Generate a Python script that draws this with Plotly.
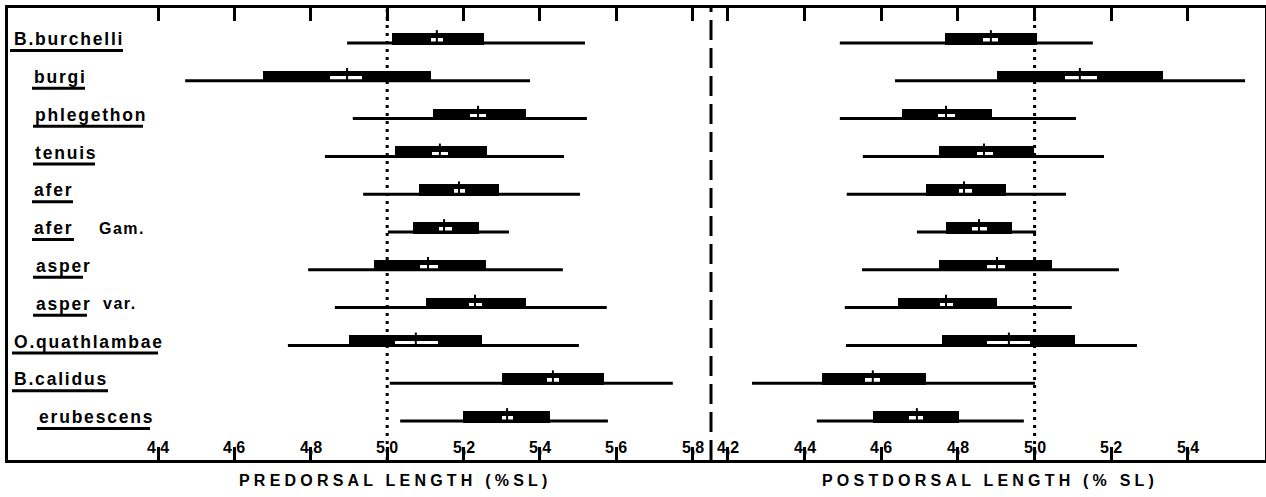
import plotly.graph_objects as go

# ---------------- data ----------------
species = ["B.burchelli", "burgi", "phlegethon", "tenuis", "afer", "afer",
           "asper", "asper", "O.quathlambae", "B.calidus", "erubescens"]
suffix = ["", "", "", "", "", "Gam.", "", "var.", "", "", ""]

# Predorsal length (% SL)
pre_min = [4.895, 4.471, 4.910, 4.837, 4.937, 5.002, 4.793, 4.863, 4.740, 5.007, 5.034]
pre_max = [5.518, 5.374, 5.523, 5.463, 5.505, 5.319, 5.460, 5.575, 5.502, 5.748, 5.578]
pre_lo = [5.013, 4.675, 5.120, 5.020, 5.083, 5.068, 4.965, 5.102, 4.900, 5.301, 5.198]
pre_hi = [5.253, 5.115, 5.363, 5.261, 5.293, 5.240, 5.259, 5.363, 5.248, 5.568, 5.426]
pre_mean = [5.130, 4.895, 5.238, 5.138, 5.188, 5.149, 5.107, 5.230, 5.075, 5.434, 5.314]
pre_wlo = [5.115, 4.850, 5.217, 5.117, 5.175, 5.136, 5.086, 5.214, 5.020, 5.418, 5.301]
pre_whi = [5.146, 4.934, 5.259, 5.159, 5.204, 5.170, 5.133, 5.248, 5.133, 5.450, 5.329]

# Postdorsal length (% SL)
post_min = [4.492, 4.636, 4.492, 4.552, 4.510, 4.693, 4.550, 4.505, 4.508, 4.263, 4.432]
post_max = [5.152, 5.549, 5.108, 5.181, 5.082, 5.004, 5.220, 5.097, 5.267, 5.001, 4.972]
post_lo = [4.766, 4.902, 4.654, 4.750, 4.717, 4.769, 4.750, 4.644, 4.758, 4.445, 4.578]
post_hi = [5.006, 5.335, 4.889, 4.998, 4.925, 4.941, 5.045, 4.902, 5.105, 4.717, 4.803]
post_mean = [4.886, 5.118, 4.769, 4.868, 4.816, 4.855, 4.902, 4.769, 4.933, 4.578, 4.693]
post_wlo = [4.865, 5.079, 4.748, 4.850, 4.803, 4.837, 4.876, 4.753, 4.876, 4.557, 4.672]
post_whi = [4.904, 5.163, 4.792, 4.891, 4.837, 4.876, 4.923, 4.787, 4.988, 4.597, 4.709]

pre_ticks = [4.4, 4.6, 4.8, 5.0, 5.2, 5.4, 5.6, 5.8]
pre_ticktext = ["4,4", "4,6", "4,8", "5,0", "5,2", "5,4", "5,6", "5,8"]
post_ticks = [4.2, 4.4, 4.6, 4.8, 5.0, 5.2, 5.4]
post_ticktext = ["4,2", "4,4", "4,6", "4,8", "5,0", "5,2", "5,4"]
ref_value = 5.0

pre_title = "PREDORSAL LENGTH (%SL)"
post_title = "POSTDORSAL LENGTH (% SL)"

# ---------------- styling / layout constants ----------------
W, H = 1266, 497
ML, MR, MT, MB = 8, 1, 8, 37
PW = W - ML - MR
PH = H - MT - MB
SPLIT_PX = 711
split = (SPLIT_PX - ML) / PW
FONT = "Liberation Sans, Arial, Helvetica, sans-serif"

BAR_C, BAR_W = 0.112, 0.305      # thick bar centre offset / thickness (row units)
WB_C, WB_W = 0.075, 0.10         # white box
TICK_TOP, TICK_BOT = 0.34, 0.02  # mean tick extent

label_x_px = [12, 32, 33, 33, 32, 32, 34, 34, 12, 12, 37]
suffix_x_px = [0, 0, 0, 0, 0, 97, 0, 101, 0, 0, 0]
underline_px = [(10, 123), (32, 85), (33, 143), (33, 95), (32, 73), (32, 74),
                (33, 83), (33, 87), (12, 158), (12, 108), (37, 150)]

n = len(species)
rows = list(range(n))


def px2paper(px):
    return (px - ML) / PW


fig = go.Figure()


def add_panel(xa, ya, mn, mx, lo, hi, mean, wlo, whi):
    xs, ys = [], []
    for i in rows:
        xs += [mn[i], mx[i], None]
        ys += [i, i, None]
    fig.add_trace(go.Scatter(x=xs, y=ys, mode="lines", xaxis=xa, yaxis=ya,
                             line=dict(color="black", width=3), hoverinfo="skip"))
    fig.add_trace(go.Bar(orientation="h", y=[i - BAR_C for i in rows],
                         x=[h - l for l, h in zip(lo, hi)], base=lo, width=BAR_W,
                         marker=dict(color="black", line=dict(width=0)),
                         xaxis=xa, yaxis=ya, hoverinfo="skip"))
    fig.add_trace(go.Bar(orientation="h", y=[i - WB_C for i in rows],
                         x=[h - l for l, h in zip(wlo, whi)], base=wlo, width=WB_W,
                         marker=dict(color="white", line=dict(width=0)),
                         xaxis=xa, yaxis=ya, hoverinfo="skip"))
    mx_, my_ = [], []
    for i in rows:
        mx_ += [mean[i], mean[i], None]
        my_ += [i - TICK_TOP, i + TICK_BOT, None]
    fig.add_trace(go.Scatter(x=mx_, y=my_, mode="lines", xaxis=xa, yaxis=ya,
                             line=dict(color="black", width=2), hoverinfo="skip"))


add_panel("x", "y", pre_min, pre_max, pre_lo, pre_hi, pre_mean, pre_wlo, pre_whi)
add_panel("x2", "y2", post_min, post_max, post_lo, post_hi, post_mean, post_wlo, post_whi)

row_px = 37.8
top_val = -(35 / row_px)
bot_val = (PH - 35) / row_px
yrange = [bot_val, top_val]

xcommon = dict(showline=True, linewidth=3, linecolor="black", mirror="ticks",
               ticks="inside", ticklen=13, tickwidth=3, tickcolor="black",
               showticklabels=False, showgrid=False, zeroline=False, fixedrange=True)
ycommon = dict(range=yrange, showline=True, linewidth=3, linecolor="black",
               showticklabels=False, ticks="", showgrid=False, zeroline=False,
               fixedrange=True)

fig.update_layout(
    width=W, height=H,
    margin=dict(l=ML, r=MR, t=MT, b=MB, pad=0),
    paper_bgcolor="white", plot_bgcolor="rgba(0,0,0,0)",
    showlegend=False, barmode="overlay", bargap=0,
    xaxis=dict(domain=[0, split], range=[4.007, 5.848], tickvals=pre_ticks,
               anchor="y", **xcommon),
    xaxis2=dict(domain=[split, 1], range=[4.156, 5.601], tickvals=post_ticks,
                anchor="y2", **xcommon),
    yaxis=dict(domain=[0, 1], anchor="x", side="left", **ycommon),
    yaxis2=dict(domain=[0, 1], anchor="x2", side="right", **ycommon),
)

shapes = []
# dotted reference lines at 5.0
for xr in ["x", "x2"]:
    shapes.append(dict(type="line", xref=xr, yref="paper", x0=ref_value, x1=ref_value,
                       y0=0, y1=1, layer="below",
                       line=dict(color="black", width=3, dash="3px,5px")))
# dashed divider
shapes.append(dict(type="line", xref="paper", yref="paper", x0=split, x1=split,
                   y0=0, y1=1, line=dict(color="black", width=3, dash="20px,8px")))
# underlines of species names
for i in rows:
    a, b = underline_px[i]
    shapes.append(dict(type="line", xref="paper", yref="y", x0=px2paper(a), x1=px2paper(b),
                       y0=i + 0.2, y1=i + 0.2, line=dict(color="black", width=3)))
fig.update_layout(shapes=shapes)

ann = []
for i in rows:
    ann.append(dict(xref="paper", yref="y", x=px2paper(label_x_px[i]), y=i - 0.1,
                    xanchor="left", yanchor="middle", showarrow=False,
                    text='<span style="letter-spacing:1.8px"><b>%s</b></span>' % species[i],
                    font=dict(family=FONT, size=17.5, color="black")))
    if suffix[i]:
        ann.append(dict(xref="paper", yref="y", x=px2paper(suffix_x_px[i]), y=i - 0.1,
                        xanchor="left", yanchor="middle", showarrow=False,
                        text='<span style="letter-spacing:1.5px"><b>%s</b></span>' % suffix[i],
                        font=dict(family=FONT, size=16, color="black")))
for xr, tv, tt in [("x", pre_ticks, pre_ticktext), ("x2", post_ticks, post_ticktext)]:
    for v, t in zip(tv, tt):
        ann.append(dict(xref=xr, yref="paper", x=v, y=0, xanchor="center", yanchor="bottom",
                        yshift=2, showarrow=False, text="<b>%s</b>" % t,
                        font=dict(family=FONT, size=16, color="black")))
for cx, t in [(395, pre_title), (990, post_title)]:
    ann.append(dict(xref="paper", yref="paper", x=px2paper(cx), y=(460 - 480) / PH,
                    xanchor="center", yanchor="middle", showarrow=False,
                    text='<span style="letter-spacing:4.2px"><b>%s</b></span>' % t,
                    font=dict(family=FONT, size=16, color="black")))
fig.update_layout(annotations=ann)

fig.write_html("out.html")
